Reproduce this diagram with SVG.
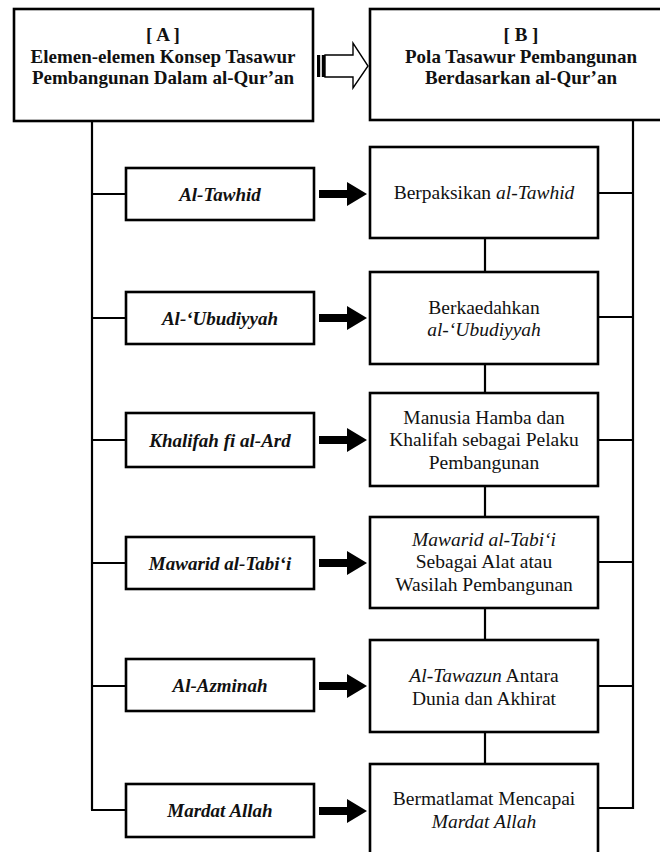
<svg xmlns="http://www.w3.org/2000/svg" width="660" height="852" viewBox="0 0 660 852">
<style>
.box{fill:#fff;stroke:#000;stroke-width:2.6}
.ln{stroke:#000;stroke-width:2.2;fill:none}
.h{font-family:"Liberation Serif","Times New Roman",serif;font-weight:bold;font-size:19px;fill:#111;text-anchor:middle}
.l{font-family:"Liberation Serif","Times New Roman",serif;font-weight:bold;font-style:italic;font-size:19px;fill:#111;text-anchor:middle}
.r{font-family:"Liberation Serif","Times New Roman",serif;font-size:19.5px;fill:#111;text-anchor:middle}
.i{font-style:italic}
</style>
<defs>
<path id="arr" d="M0,-4 L28,-4 L28,-12 L48,0 L28,12 L28,4 L0,4 Z" fill="#000"/>
</defs>
<rect width="660" height="852" fill="#fff"/>
<g id="connectors">
<line class="ln" x1="92" y1="121" x2="92" y2="810"/>
<line class="ln" x1="91" y1="810" x2="126" y2="810"/>
<line class="ln" x1="92" y1="194" x2="126" y2="194"/>
<line class="ln" x1="92" y1="318" x2="126" y2="318"/>
<line class="ln" x1="92" y1="440" x2="126" y2="440"/>
<line class="ln" x1="92" y1="563" x2="126" y2="563"/>
<line class="ln" x1="92" y1="686" x2="126" y2="686"/>
<line class="ln" x1="633" y1="120" x2="633" y2="809"/>
<line class="ln" x1="598" y1="808" x2="634" y2="808"/>
<line class="ln" x1="598" y1="193" x2="633" y2="193"/>
<line class="ln" x1="598" y1="317" x2="633" y2="317"/>
<line class="ln" x1="598" y1="440" x2="633" y2="440"/>
<line class="ln" x1="598" y1="562" x2="633" y2="562"/>
<line class="ln" x1="598" y1="686" x2="633" y2="686"/>
<line class="ln" x1="485" y1="238" x2="485" y2="272"/>
<line class="ln" x1="485" y1="364" x2="485" y2="393"/>
<line class="ln" x1="485" y1="486" x2="485" y2="517"/>
<line class="ln" x1="485" y1="608" x2="485" y2="640"/>
<line class="ln" x1="485" y1="732" x2="485" y2="764"/>
<use href="#arr" x="319" y="194"/>
<use href="#arr" x="319" y="318"/>
<use href="#arr" x="319" y="440"/>
<use href="#arr" x="319" y="563"/>
<use href="#arr" x="319" y="686"/>
<use href="#arr" x="319" y="811"/>
<g id="bigarrow">
<rect x="317" y="55" width="3.2" height="22" fill="#000"/>
<rect x="321.8" y="55" width="3.4" height="22" fill="#000"/>
<path d="M325,55 L353,55 L353,43 L368,66 L353,88 L353,77 L325,77 Z" fill="#fff" stroke="#000" stroke-width="1.4"/>
</g>
</g>
<g id="nodeA">
<rect class="box" x="14" y="9" width="299" height="112" stroke-width="3"/>
<text class="h" x="163" y="41">[ A ]</text>
<text class="h" x="163" y="63">Elemen-elemen Konsep Tasawur</text>
<text class="h" x="163" y="84">Pembangunan Dalam al-Qur’an</text>
</g>
<g id="nodeB">
<rect class="box" x="370" y="9" width="302" height="111" stroke-width="3"/>
<text class="h" x="521" y="41">[ B ]</text>
<text class="h" x="521" y="63">Pola Tasawur Pembangunan</text>
<text class="h" x="521" y="84">Berdasarkan al-Qur’an</text>
</g>
<g id="a1"><rect class="box" x="126" y="168" width="188" height="52"/><text class="l" x="220" y="201">Al-Tawhid</text></g>
<g id="a2"><rect class="box" x="126" y="292" width="188" height="52"/><text class="l" x="220" y="325">Al-‘Ubudiyyah</text></g>
<g id="a3"><rect class="box" x="126" y="413" width="188" height="54"/><text class="l" x="220" y="447">Khalifah fi al-Ard</text></g>
<g id="a4"><rect class="box" x="126" y="537" width="188" height="52"/><text class="l" x="220" y="570">Mawarid al-Tabi‘i</text></g>
<g id="a5"><rect class="box" x="126" y="659" width="188" height="52"/><text class="l" x="220" y="692">Al-Azminah</text></g>
<g id="a6"><rect class="box" x="126" y="784" width="188" height="53"/><text class="l" x="220" y="817">Mardat Allah</text></g>
<g id="b1"><rect class="box" x="370" y="147" width="228" height="91"/><text class="r" x="484" y="199">Berpaksikan <tspan class="i">al-Tawhid</tspan></text></g>
<g id="b2"><rect class="box" x="370" y="272" width="228" height="92"/><text class="r" x="484" y="313.5">Berkaedahkan</text><text class="r i" x="484" y="336">al-‘Ubudiyyah</text></g>
<g id="b3"><rect class="box" x="370" y="393" width="228" height="93"/><text class="r" x="484" y="423.5">Manusia Hamba dan</text><text class="r" x="484" y="446">Khalifah sebagai Pelaku</text><text class="r" x="484" y="468.5">Pembangunan</text></g>
<g id="b4"><rect class="box" x="370" y="517" width="228" height="91"/><text class="r i" x="484" y="545.5">Mawarid al-Tabi‘i</text><text class="r" x="484" y="568">Sebagai Alat atau</text><text class="r" x="484" y="590.5">Wasilah Pembangunan</text></g>
<g id="b5"><rect class="box" x="370" y="640" width="228" height="92"/><text class="r" x="484" y="682"><tspan class="i">Al-Tawazun</tspan> Antara</text><text class="r" x="484" y="704.5">Dunia dan Akhirat</text></g>
<g id="b6"><rect class="box" x="370" y="764" width="228" height="95"/><text class="r" x="484" y="805">Bermatlamat Mencapai</text><text class="r i" x="484" y="827.5">Mardat Allah</text></g>
</svg>
